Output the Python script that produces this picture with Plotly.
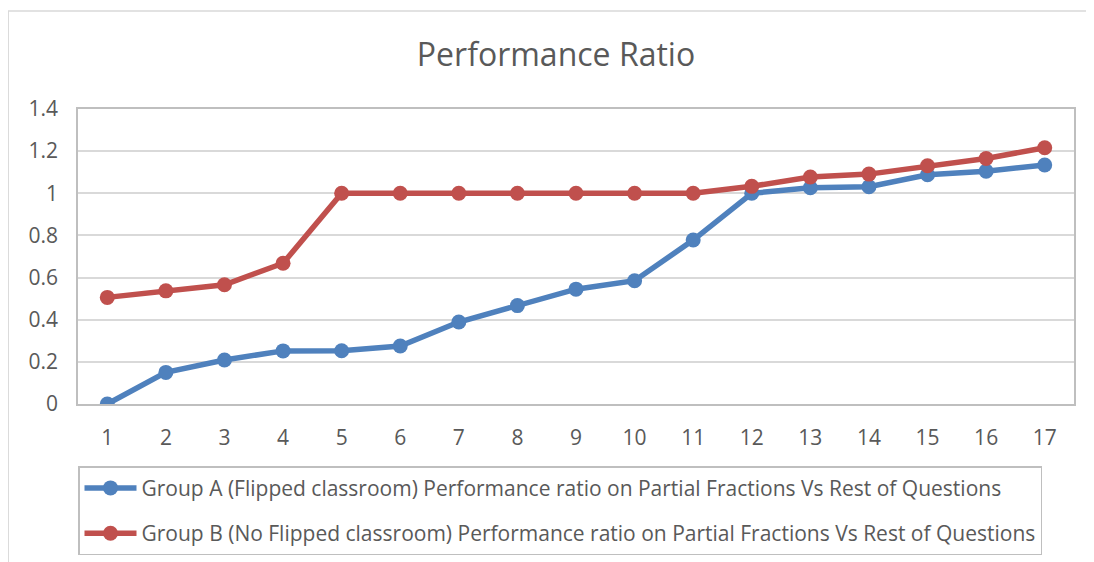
import plotly.graph_objects as go

categories = list(range(1, 18))
group_a = [0.0, 0.15, 0.209, 0.252, 0.253, 0.275, 0.389, 0.467, 0.545, 0.585, 0.778,
           1.0, 1.026, 1.031, 1.088, 1.105, 1.134]
group_b = [0.506, 0.537, 0.566, 0.668, 1.0, 1.0, 1.0, 1.0, 1.0, 1.0, 1.0,
           1.033, 1.077, 1.091, 1.131, 1.165, 1.216]
y_ticks = [0, 0.2, 0.4, 0.6, 0.8, 1.0, 1.2, 1.4]
y_tick_text = ["0", "0.2", "0.4", "0.6", "0.8", "1", "1.2", "1.4"]
name_a = "Group A (Flipped classroom) Performance ratio on Partial Fractions Vs Rest of Questions"
name_b = "Group B (No Flipped classroom) Performance ratio on Partial Fractions Vs Rest of Questions"
title = "Performance Ratio"

BLUE = "#4F81BD"
RED = "#C0504D"
FONT = "Open Sans"
TXT = "#595959"

# page body has an 8px offset; figure is sized so the visible region matches
OFF = 8
W, H = 1094, 562

fig = go.Figure()
fig.add_trace(go.Scatter(x=categories, y=group_a, name=name_a, mode="lines+markers",
                         line=dict(color=BLUE, width=5.5), marker=dict(color=BLUE, size=15),
                         legendgroup="a"))
fig.add_trace(go.Scatter(x=categories, y=group_b, name=name_b, mode="lines+markers",
                         line=dict(color=RED, width=5.5), marker=dict(color=RED, size=15),
                         legendgroup="b"))

fig.update_layout(
    width=W, height=H,
    margin=dict(l=78 - OFF, r=W + OFF - 1074, t=109 - OFF, b=H + OFF - 404),
    paper_bgcolor="white", plot_bgcolor="white",
    title=dict(text=title, x=(556 - OFF) / W, xanchor="center", y=1 - (55 - OFF) / H,
               yanchor="middle", font=dict(family=FONT, size=32, color=TXT)),
    font=dict(family=FONT, color=TXT),
    xaxis=dict(range=[0.5, 17.5], tickvals=categories, showgrid=False, zeroline=False,
               showline=True, mirror=True, linecolor="#BFBFBF", linewidth=1.5,
               ticks="", tickfont=dict(size=21, color=TXT), ticklabelstandoff=14),
    yaxis=dict(range=[0, 1.4], tickvals=y_ticks, ticktext=y_tick_text, showgrid=True,
               gridcolor="#D9D9D9", gridwidth=1.5, zeroline=False,
               showline=True, mirror=True, linecolor="#BFBFBF", linewidth=1.5,
               ticks="", tickfont=dict(size=21, color=TXT), ticklabelstandoff=14),
    showlegend=True,
    legend=dict(x=0.0, y=-0.211, xanchor="left", yanchor="top", orientation="v",
                bordercolor="#BFBFBF", borderwidth=1.5, bgcolor="white",
                font=dict(family=FONT, size=21, color=TXT), itemwidth=52,
                traceorder="grouped", tracegroupgap=15),
    shapes=[dict(type="rect", xref="paper", yref="paper", x0=-0.0701, x1=1.1,
                 y0=1.332, y1=-0.7, line=dict(color="#D9D9D9", width=1.5), layer="below")],
)

fig.write_html("out.html")
